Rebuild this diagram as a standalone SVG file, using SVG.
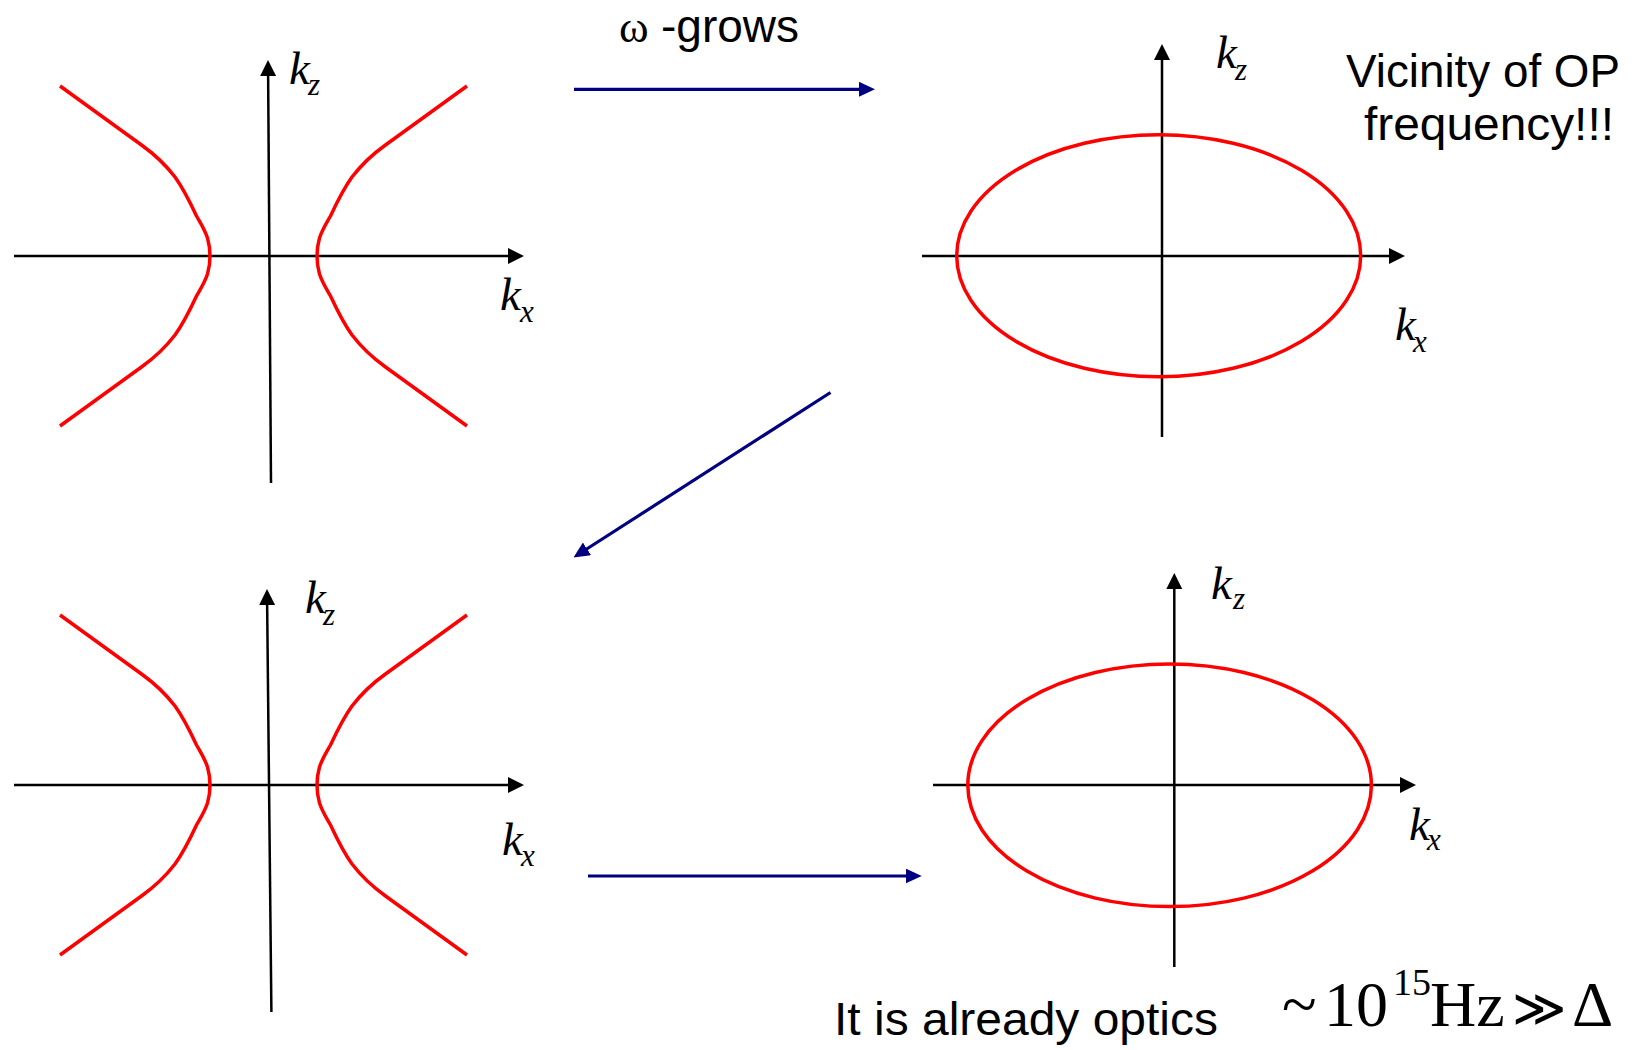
<svg xmlns="http://www.w3.org/2000/svg" xmlns:xlink="http://www.w3.org/1999/xlink" width="1639" height="1050" viewBox="0 0 1639 1050">
<style>
.axis{stroke:#000;stroke-width:2.5;fill:none;marker-end:url(#axhead)}
.curve{stroke:#FF0000;stroke-width:3.5;fill:none;stroke-linejoin:round;stroke-linecap:butt}
.conn{stroke:#000080;stroke-width:3.2;fill:none;marker-end:url(#navyhead)}
.k{font-family:"Liberation Serif","Times New Roman",serif;font-style:italic;font-size:47px;fill:#000}
.sub{font-family:"Liberation Serif","Times New Roman",serif;font-style:italic;font-size:31px;fill:#000}
.sans{font-family:"Liberation Sans",Arial,sans-serif;font-size:46px;fill:#000}
.serif{font-family:"Liberation Serif","Times New Roman",serif;fill:#000}
</style>
<defs>
<marker id="axhead" markerUnits="userSpaceOnUse" markerWidth="16" markerHeight="16" viewBox="0 0 16 16" refX="4" refY="8" orient="auto">
<path d="M0,0 L16,8 L0,16 z" fill="#000"/>
</marker>
<marker id="navyhead" markerUnits="userSpaceOnUse" markerWidth="16" markerHeight="15" viewBox="0 0 16 15" refX="4" refY="7.5" orient="auto">
<path d="M0,0 L16,7.5 L0,15 z" fill="#000080"/>
</marker>
<path id="branch" d="M-203.5,-170 L-122,-111 C-108,-101 -97,-90 -88.5,-79 C-82,-70 -74,-55 -67,-40 C-63,-33 -59,-27 -56,-18 C-54,-11 -53.5,-6 -53.5,0 C-53.5,6 -54,11 -56,18 C-59,27 -63,33 -67,40 C-74,55 -82,70 -88.5,79 C-97,90 -108,101 -122,111 L-203.5,170"/>
</defs>
<rect width="1639" height="1050" fill="#fff"/>

<g id="plot-top-left">
<line class="axis" x1="14" y1="256" x2="512" y2="256"/>
<line class="axis" x1="271" y1="483" x2="268.1" y2="72"/>
<use href="#branch" xlink:href="#branch" class="curve" transform="translate(263.5,256)"/>
<use href="#branch" xlink:href="#branch" class="curve" transform="translate(263.5,256) scale(-1,1)"/>
<text class="k" x="289" y="84">k</text><text class="sub" x="308" y="95">z</text>
<text class="k" x="500" y="310">k</text><text class="sub" x="520" y="322">x</text>
</g>

<g id="plot-top-right">
<line class="axis" x1="922" y1="256" x2="1393" y2="256"/>
<line class="axis" x1="1162" y1="437" x2="1162" y2="56"/>
<ellipse class="curve" cx="1158.7" cy="255.8" rx="202" ry="121"/>
<text class="k" x="1216" y="68">k</text><text class="sub" x="1235" y="80">z</text>
<text class="k" x="1395" y="340">k</text><text class="sub" x="1413" y="352">x</text>
</g>

<g id="plot-bottom-left">
<line class="axis" x1="14" y1="785" x2="512" y2="785"/>
<line class="axis" x1="271.4" y1="1012" x2="267.1" y2="601"/>
<use href="#branch" xlink:href="#branch" class="curve" transform="translate(263.5,785)"/>
<use href="#branch" xlink:href="#branch" class="curve" transform="translate(263.5,785) scale(-1,1)"/>
<text class="k" x="305" y="613">k</text><text class="sub" x="323" y="625">z</text>
<text class="k" x="502" y="855">k</text><text class="sub" x="521" y="866">x</text>
</g>

<g id="plot-bottom-right">
<line class="axis" x1="933" y1="785" x2="1404" y2="785"/>
<line class="axis" x1="1174.3" y1="967" x2="1174.3" y2="585"/>
<ellipse class="curve" cx="1169.6" cy="785.3" rx="201.8" ry="121.3"/>
<text class="k" x="1211" y="599">k</text><text class="sub" x="1233" y="609">z</text>
<text class="k" x="1409" y="840">k</text><text class="sub" x="1427" y="850">x</text>
</g>

<g id="connectors">
<line class="conn" x1="574" y1="89.3" x2="863" y2="89.3"/>
<line class="conn" x1="830.5" y1="392.5" x2="583.6" y2="551"/>
<line class="conn" x1="588" y1="876" x2="909.7" y2="876"/>
</g>

<g id="label-omega-grows">
<text class="serif" x="619" y="42" font-size="45">ω</text>
<text class="sans" x="661" y="42" font-size="47">-grows</text>
</g>

<g id="label-vicinity">
<text class="sans" x="1346" y="87" textLength="274" lengthAdjust="spacingAndGlyphs">Vicinity of OP</text>
<text class="sans" x="1364" y="140" textLength="250" lengthAdjust="spacingAndGlyphs">frequency!!!</text>
</g>

<g id="label-optics">
<text class="sans" x="834" y="1035" font-size="47" textLength="384" lengthAdjust="spacingAndGlyphs">It is already optics</text>
</g>

<g id="label-frequency">
<text class="serif" font-size="64" y="1026"><tspan x="1282">~</tspan><tspan x="1324">10</tspan><tspan x="1393" y="995" font-size="38">15</tspan><tspan x="1430" y="1026">Hz</tspan><tspan x="1512" font-family="'DejaVu Serif','Liberation Serif',serif" font-size="52">≫</tspan><tspan x="1572">Δ</tspan></text>
</g>
</svg>
